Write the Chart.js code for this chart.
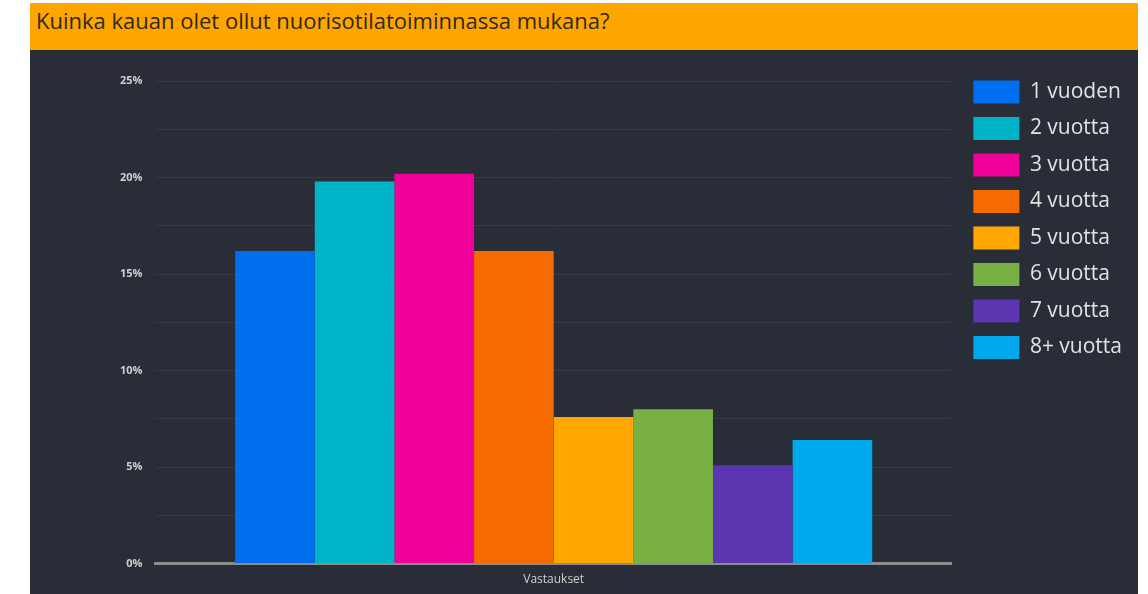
<!DOCTYPE html>
<html lang="fi">
<head>
  <meta charset="UTF-8" />
  <title>Kuinka kauan olet ollut nuorisotilatoiminnassa mukana?</title>
  <script src="https://cdn.jsdelivr.net/npm/chart.js"></script>
  <style>
    body { margin: 0; background: #fff; width: 1148px; height: 594px; position: relative; overflow: hidden; }
    #header {
      position: absolute; left: 30px; top: 3px; width: 1108px; height: 47px;
      background: #ffa500; font-family: "Open Sans", sans-serif; font-size: 22px;
      color: #2e2a1c; line-height: 34px; padding-left: 6px; box-sizing: border-box;
    }
    #panel { position: absolute; left: 30px; top: 50px; width: 1108px; height: 544px; background: #292d37; }
  </style>
</head>
<body>
  <div id="header">Kuinka kauan olet ollut nuorisotilatoiminnassa mukana?</div>
  <div id="panel"><canvas id="chart" width="1108" height="544"></canvas></div>

  <script>
    const categories = ['Vastaukset'];
    const seriesLabels = ['1 vuoden', '2 vuotta', '3 vuotta', '4 vuotta', '5 vuotta', '6 vuotta', '7 vuotta', '8+ vuotta'];
    const seriesValues = [16.2, 19.8, 20.2, 16.2, 7.6, 8.0, 5.1, 6.4];
    const seriesColors = ['#006fef', '#00b3c7', '#ee0099', '#f56b00', '#ffa600', '#79b043', '#5c35b1', '#00a8ee'];
    const yTicks = [0, 5, 10, 15, 20, 25];

    // move the legend box up/right after layout so it sits like the original
    const legendShift = {
      id: 'legendShift',
      afterLayout(chart) {
        const lg = chart.legend;
        lg.top -= 14;
        lg.bottom -= 14;
        lg.left += 8;
        lg.right += 8;
      }
    };

    const ctx = document.getElementById('chart').getContext('2d');
    new Chart(ctx, {
      type: 'bar',
      data: {
        labels: categories,
        datasets: seriesLabels.map((label, i) => ({
          label: label,
          data: [seriesValues[i]],
          backgroundColor: seriesColors[i],
          borderWidth: 0
        }))
      },
      options: {
        responsive: false,
        devicePixelRatio: 1,
        animation: false,
        layout: { padding: { top: 31, left: 77, right: 14, bottom: 6 } },
        datasets: { bar: { categoryPercentage: 0.8, barPercentage: 1.0 } },
        plugins: {
          legend: {
            position: 'right',
            align: 'start',
            labels: {
              boxWidth: 46,
              boxHeight: 23,
              padding: 13.5,
              color: '#e2e2e2',
              font: { family: 'Open Sans', size: 21 }
            }
          },
          tooltip: { enabled: false }
        },
        scales: {
          x: {
            grid: { display: false },
            border: { color: '#8c8c8c', width: 3 },
            ticks: { color: '#d0d0d0', padding: 1, font: { family: 'Open Sans', size: 12 } }
          },
          y: {
            min: 0,
            max: 25,
            border: { display: false },
            grid: {
              drawTicks: false,
              color: ctx => ctx.tick.value === 0 ? 'rgba(0,0,0,0)' : '#383a44'
            },
            ticks: {
              stepSize: 2.5,
              padding: 13,
              color: '#cfcfcf',
              font: { family: 'Open Sans', size: 11, weight: 'bold' },
              callback: v => yTicks.includes(v) ? v + '%' : ''
            }
          }
        }
      },
      plugins: [legendShift]
    });
  </script>
</body>
</html>
